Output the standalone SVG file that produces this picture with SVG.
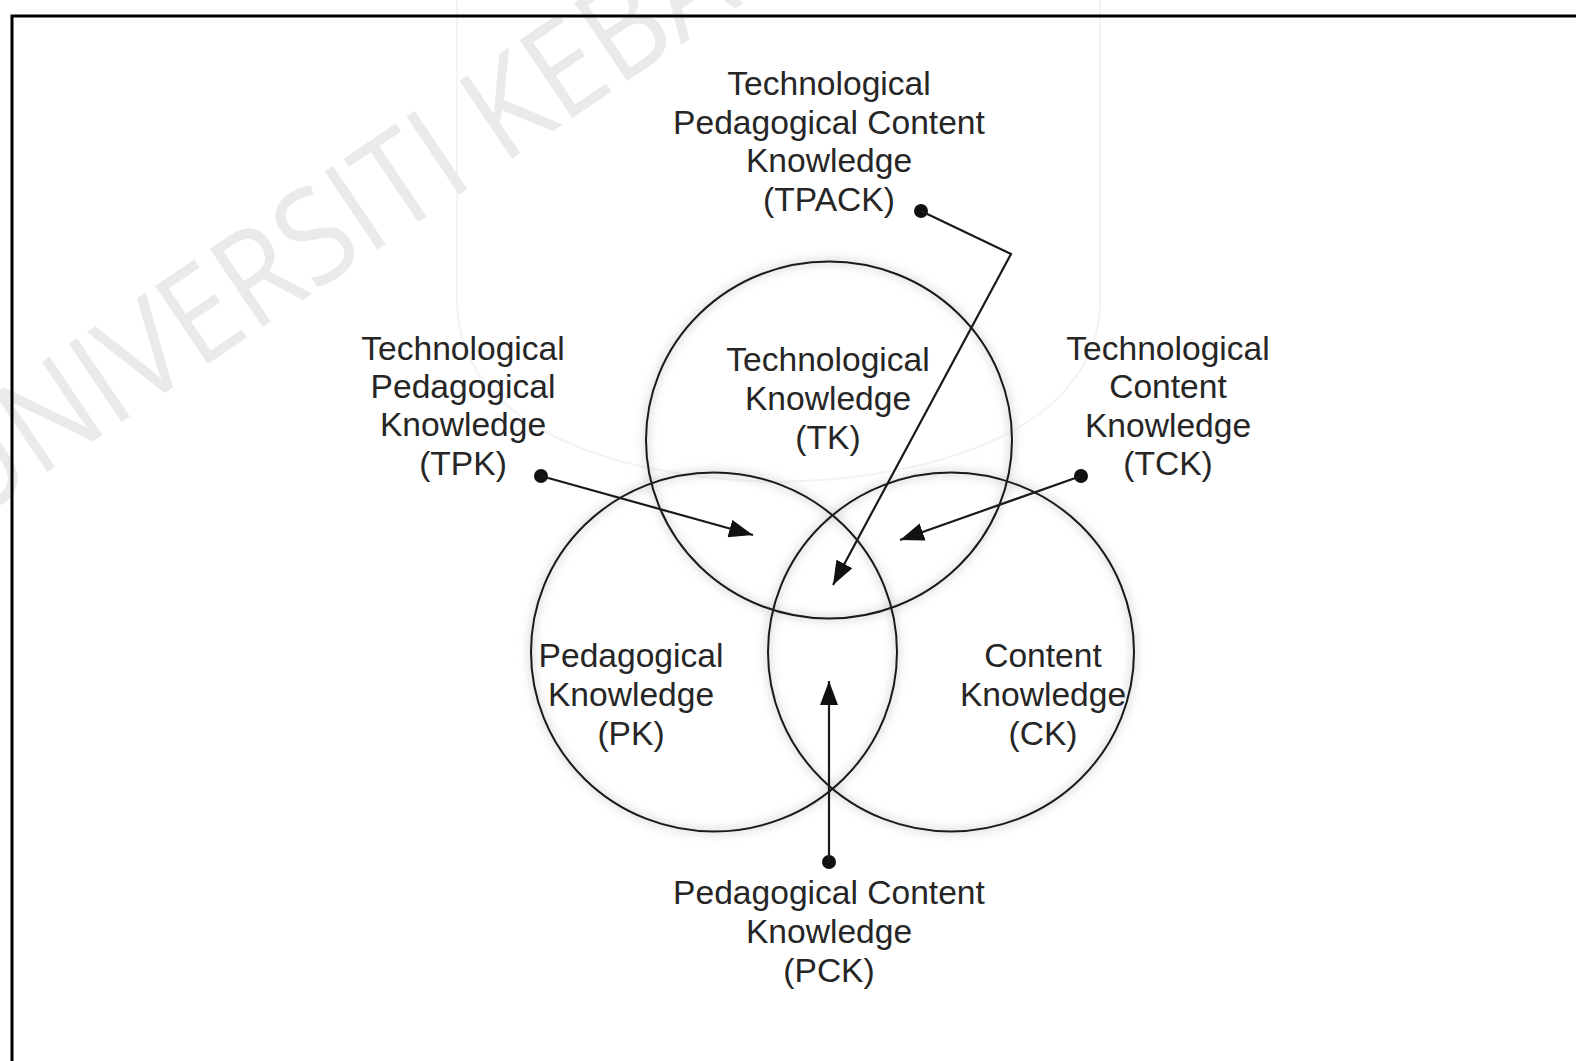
<svg xmlns="http://www.w3.org/2000/svg" width="1576" height="1061" viewBox="0 0 1576 1061">
  <style>
    .lbl { font-family: "Liberation Sans", Arial, sans-serif; font-size: 33.6px; fill: #262626; text-anchor: middle; }
    .ring { fill: none; stroke: #1a1a1a; stroke-width: 2; }
    .halo { fill: none; stroke: #b8b8b8; stroke-width: 7; opacity: 0.45; }
    .conn { fill: none; stroke: #1a1a1a; stroke-width: 2.2; }
    .dot { fill: #111; }
    .wm { font-family: "Open Sans", "Liberation Sans", sans-serif; font-size: 132px; fill: #eaeaea; }
  </style>
  <defs>
    <filter id="blur" x="-20%" y="-20%" width="140%" height="140%">
      <feGaussianBlur stdDeviation="4"/>
    </filter>
    <marker id="arrow" markerUnits="userSpaceOnUse" markerWidth="26" markerHeight="20" refX="24" refY="9" orient="auto">
      <path d="M0,0 L24,9 L0,18 z" fill="#111"/>
    </marker>
  </defs>

  <rect x="0" y="0" width="1576" height="1061" fill="#ffffff"/>

  <!-- faint watermark -->
  <g id="watermark">
    <path d="M457,0 V300 C457,420 600,478 778,482 C956,478 1100,420 1100,300 V0" fill="none" stroke="#f3f3f3" stroke-width="2"/>
    <text class="wm" transform="translate(-34,527) rotate(-34) scale(0.9,1)">UNIVERSITI KEBA</text>
  </g>

  <!-- frame -->
  <rect x="12" y="16" width="1620" height="1100" fill="none" stroke="#000" stroke-width="3"/>

  <!-- halos -->
  <g filter="url(#blur)">
    <ellipse class="halo" cx="829" cy="440" rx="183" ry="178.5"/>
    <ellipse class="halo" cx="714" cy="652" rx="183" ry="179.5"/>
    <ellipse class="halo" cx="951" cy="652" rx="183" ry="179.5"/>
  </g>

  <g id="tk">
    <ellipse class="ring" cx="829" cy="440" rx="183" ry="178.5"/>
    <text class="lbl" x="828" y="371">Technological</text>
    <text class="lbl" x="828" y="410">Knowledge</text>
    <text class="lbl" x="828" y="449">(TK)</text>
  </g>
  <g id="pk">
    <ellipse class="ring" cx="714" cy="652" rx="183" ry="179.5"/>
    <text class="lbl" x="631" y="667">Pedagogical</text>
    <text class="lbl" x="631" y="705.5">Knowledge</text>
    <text class="lbl" x="631" y="744.5">(PK)</text>
  </g>
  <g id="ck">
    <ellipse class="ring" cx="951" cy="652" rx="183" ry="179.5"/>
    <text class="lbl" x="1043" y="667">Content</text>
    <text class="lbl" x="1043" y="705.5">Knowledge</text>
    <text class="lbl" x="1043" y="744.5">(CK)</text>
  </g>

  <g id="tpack">
    <text class="lbl" x="829" y="95">Technological</text>
    <text class="lbl" x="829" y="133.5">Pedagogical Content</text>
    <text class="lbl" x="829" y="172">Knowledge</text>
    <text class="lbl" x="829" y="210.5">(TPACK)</text>
    <circle class="dot" cx="921" cy="211" r="7"/>
  </g>
  <g id="tpk">
    <text class="lbl" x="463" y="359.5">Technological</text>
    <text class="lbl" x="463" y="397.5">Pedagogical</text>
    <text class="lbl" x="463" y="436">Knowledge</text>
    <text class="lbl" x="463" y="474.5">(TPK)</text>
    <circle class="dot" cx="541" cy="476" r="7"/>
  </g>
  <g id="tck">
    <text class="lbl" x="1168" y="360">Technological</text>
    <text class="lbl" x="1168" y="398">Content</text>
    <text class="lbl" x="1168" y="436.5">Knowledge</text>
    <text class="lbl" x="1168" y="475">(TCK)</text>
    <circle class="dot" cx="1081" cy="476" r="7"/>
  </g>
  <g id="pck">
    <text class="lbl" x="829" y="904">Pedagogical Content</text>
    <text class="lbl" x="829" y="943">Knowledge</text>
    <text class="lbl" x="829" y="982">(PCK)</text>
    <circle class="dot" cx="829" cy="862" r="7"/>
  </g>

  <g id="connectors">
    <polyline class="conn" points="921,211 1011,254 833,585" marker-end="url(#arrow)"/>
    <line class="conn" x1="541" y1="476" x2="753" y2="535" marker-end="url(#arrow)"/>
    <line class="conn" x1="1081" y1="476" x2="900" y2="540" marker-end="url(#arrow)"/>
    <line class="conn" x1="829" y1="862" x2="829" y2="681" marker-end="url(#arrow)"/>
  </g>
</svg>
